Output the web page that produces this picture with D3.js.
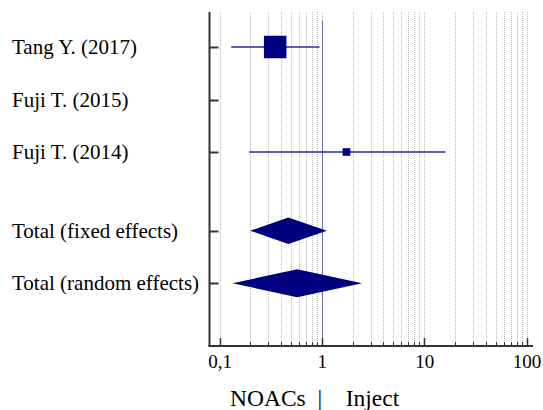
<!DOCTYPE html>
<html>
<head>
<meta charset="utf-8">
<script src="https://cdn.jsdelivr.net/npm/d3@7"></script>
<style>
  body { margin: 0; background: #fff; }
  svg text { font-family: "Liberation Serif", "Times New Roman", serif; fill: #000; }
</style>
</head>
<body>
<div id="chart"></div>
<script>
// Forest plot data (odds ratios, log scale)
const studies = ['Tang Y. (2017)', 'Fuji T. (2015)', 'Fuji T. (2014)'];
const studyEst = [0.35, null, 1.74];
const studyLo = [0.13, null, 0.195];
const studyHi = [0.95, null, 16.1];
const studyWeight = [89.5, 0, 10.5];

const totals = ['Total (fixed effects)', 'Total (random effects)'];
const totalEst = [0.47, 0.575];
const totalLo = [0.199, 0.134];
const totalHi = [1.12, 2.47];

// row slots (gap between studies and totals)
const studySlot = [0, 1, 2];
const totalSlot = [3.5, 4.5];

const majorTicks = [0.1, 1, 10, 100];
const tickLabels = ['0,1', '1', '10', '100'];
const axisTitle = 'NOACs  |    Inject';

const W = 543, H = 410;
const axisX = 209.5, plotTop = 12, axisY = 346;

const svg = d3.select('#chart').append('svg')
    .attr('width', W)
    .attr('height', H);

const x = d3.scaleLog().domain([0.1, 100]).range([219.5, 526.5]);
const y = d3.scaleLinear().domain([0, 1]).range([47, 99.5]);
const size = d3.scaleSqrt().domain([0, 100]).range([0, 23.8]);

// minor + major grid positions
const gridVals = [];
for (let d = 0.1; d < 100; d *= 10) {
    for (let k = 1; k < 10; k++) gridVals.push(+(d * k).toPrecision(3));
}
gridVals.push(100);

svg.append('g')
    .selectAll('line')
    .data(gridVals)
    .enter()
    .append('line')
    .attr('x1', d => Math.round(x(d)) + 0.5)
    .attr('x2', d => Math.round(x(d)) + 0.5)
    .attr('y1', plotTop)
    .attr('y2', axisY)
    .attr('stroke', '#b8b8b8')
    .attr('stroke-width', 1)
    .attr('stroke-dasharray', '1,1');

// null line at 1
svg.append('line')
    .attr('x1', Math.round(x(1)) + 0.5)
    .attr('x2', Math.round(x(1)) + 0.5)
    .attr('y1', 21)
    .attr('y2', axisY)
    .attr('stroke', '#6a6ab8')
    .attr('stroke-width', 1);

// bottom axis
const xAxis = d3.axisBottom(x)
    .tickValues(majorTicks)
    .tickFormat((d, i) => tickLabels[i])
    .tickSize(0)
    .tickPadding(9);

const gx = svg.append('g')
    .attr('transform', `translate(0,${axisY})`)
    .call(xAxis);
gx.select('.domain').remove();
gx.selectAll('text')
    .style('font-size', '19px')
    .style('font-family', '"Liberation Serif", serif')
    .attr('fill', '#000');

svg.append('line')
    .attr('x1', axisX - 1)
    .attr('x2', 533)
    .attr('y1', axisY)
    .attr('y2', axisY)
    .attr('stroke', '#333')
    .attr('stroke-width', 2);

svg.append('g')
    .selectAll('line')
    .data(gridVals)
    .enter()
    .append('line')
    .attr('x1', d => Math.round(x(d)) + 0.5)
    .attr('x2', d => Math.round(x(d)) + 0.5)
    .attr('y1', axisY)
    .attr('y2', d => axisY - (majorTicks.includes(d) ? 8 : 4))
    .attr('stroke', '#333')
    .attr('stroke-width', d => majorTicks.includes(d) ? 1.5 : 1);

// left axis
svg.append('line')
    .attr('x1', axisX)
    .attr('x2', axisX)
    .attr('y1', plotTop)
    .attr('y2', axisY + 1)
    .attr('stroke', '#333')
    .attr('stroke-width', 2);

const allSlots = studySlot.concat(totalSlot);
const allLabels = studies.concat(totals);

svg.append('g')
    .selectAll('line')
    .data(allSlots)
    .enter()
    .append('line')
    .attr('x1', axisX)
    .attr('x2', axisX + 9)
    .attr('y1', d => Math.round(y(d)) + 0.5)
    .attr('y2', d => Math.round(y(d)) + 0.5)
    .attr('stroke', '#333')
    .attr('stroke-width', 2);

svg.append('g')
    .selectAll('text')
    .data(allLabels)
    .enter()
    .append('text')
    .attr('x', 12)
    .attr('y', (d, i) => y(allSlots[i]) + 7)
    .style('font-size', '21px')
    .text(d => d);

// study CIs and squares
const studyRows = studies.map((s, i) => ({
    slot: studySlot[i], est: studyEst[i], lo: studyLo[i], hi: studyHi[i], w: studyWeight[i]
})).filter(d => d.est !== null);

svg.append('g')
    .selectAll('line')
    .data(studyRows)
    .enter()
    .append('line')
    .attr('x1', d => x(d.lo))
    .attr('x2', d => x(d.hi))
    .attr('y1', d => y(d.slot))
    .attr('y2', d => y(d.slot))
    .attr('stroke', '#2a2a98')
    .attr('stroke-width', 1.5);

svg.append('g')
    .selectAll('rect')
    .data(studyRows)
    .enter()
    .append('rect')
    .attr('x', d => x(d.est) - size(d.w) / 2)
    .attr('y', d => y(d.slot) - size(d.w) / 2)
    .attr('width', d => size(d.w))
    .attr('height', d => size(d.w))
    .attr('fill', '#000080');

// pooled diamonds
const totalRows = totals.map((t, i) => ({
    slot: totalSlot[i], est: totalEst[i], lo: totalLo[i], hi: totalHi[i], h: i === 0 ? 13.2 : 14
}));

svg.append('g')
    .selectAll('path')
    .data(totalRows)
    .enter()
    .append('path')
    .attr('d', d => {
        const cy = y(d.slot);
        return `M${x(d.lo)},${cy}L${x(d.est)},${cy - d.h}L${x(d.hi)},${cy}L${x(d.est)},${cy + d.h}Z`;
    })
    .attr('fill', '#000080');

// axis title
svg.append('text')
    .attr('x', 230)
    .attr('y', 406)
    .style('font-size', '23.5px')
    .attr('xml:space', 'preserve')
    .text(axisTitle);
</script>
</body>
</html>
